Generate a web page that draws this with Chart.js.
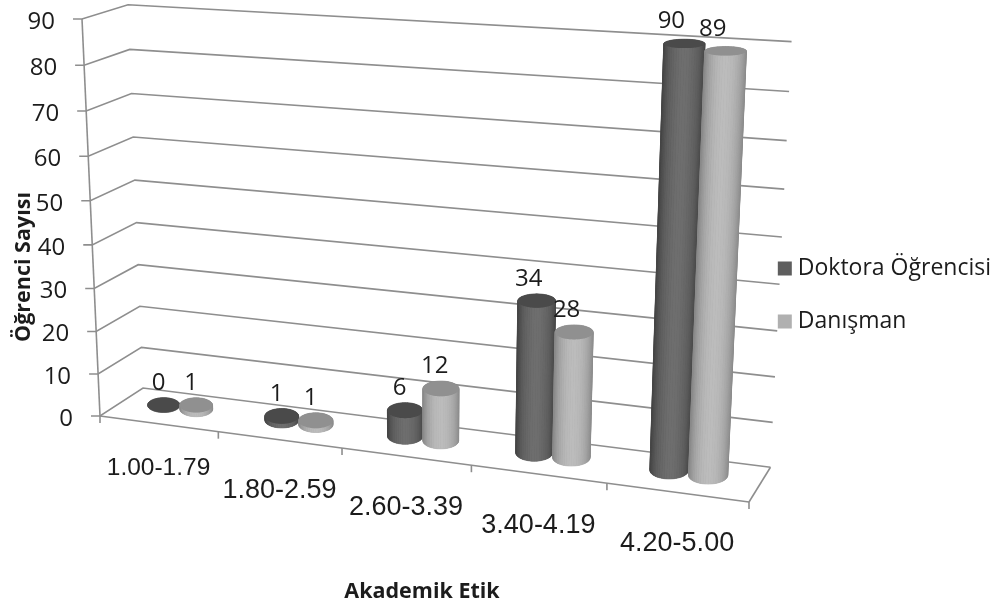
<!DOCTYPE html>
<html>
<head>
<meta charset="utf-8">
<style>
html, body { margin: 0; padding: 0; background: #fff; }
#wrap { width: 997px; height: 608px; }
canvas { filter: blur(0.5px); }
</style>
<script src="https://cdn.jsdelivr.net/npm/chart.js@4/dist/chart.umd.min.js"></script>
</head>
<body>
<div id="wrap"><canvas id="chart3d"></canvas></div>
<script>
var categories = ["1.00-1.79", "1.80-2.59", "2.60-3.39", "3.40-4.19", "4.20-5.00"];
var doktoraValues = [0, 1, 6, 34, 90];
var danismanValues = [1, 1, 12, 28, 89];
var seriesNames = ["Doktora Öğrencisi", "Danışman"];
var xTitle = "Akademik Etik";
var yTitle = "Öğrenci Sayısı";
var yMax = 90;
var yStep = 10;

// camera of the fake 3d box: image of the corners next to the front left bottom one,
// plus the perspective weight along each box direction
var box = {
	o: [100, 416], x: [749, 502], y: [82, 19], z: [143, 388],
	px: -0.108, py: -0.053, pz: 0.038
};
var barDepth = 0.57;
var barRadiusDepth = 0.26;
var barShift = -2.5;
var lineColor = '#8e8e8e';
var textColor = '#1c1c1c';
var catLabelDrop = [44, 51, 51, 51, 51];
var catLabelSize = [24.5, 27, 27, 27, 27];
var shades = [
	{ edge: 68, peak: 110, top: 74 },
	{ edge: 136, peak: 188, top: 144 }
];

function project(u, v, w) {
	var d = 1 + box.px * u + box.py * v + box.pz * w;
	function axis(i) {
		var a = box.x[i] * (1 + box.px) - box.o[i];
		var b = box.y[i] * (1 + box.py) - box.o[i];
		var c = box.z[i] * (1 + box.pz) - box.o[i];
		return (box.o[i] + a * u + b * v + c * w) / d;
	}
	return [axis(0), axis(1)];
}

function segment(ctx, a, b) {
	ctx.beginPath();
	ctx.moveTo(a[0], a[1]);
	ctx.lineTo(b[0], b[1]);
	ctx.stroke();
}

function fillRing(ctx, pts, color) {
	ctx.beginPath();
	pts.forEach(function (p, i) { if (i) ctx.lineTo(p[0], p[1]); else ctx.moveTo(p[0], p[1]); });
	ctx.closePath();
	ctx.fillStyle = color;
	ctx.fill();
}

function grey(n) {
	n = Math.round(n);
	return 'rgb(' + n + ',' + n + ',' + n + ')';
}

function drawBox(chart) {
	var ctx = chart.ctx, yScale = chart.scales.y, xScale = chart.scales.x, area = chart.chartArea;
	ctx.save();
	ctx.strokeStyle = lineColor;
	ctx.lineWidth = 1.6;
	yScale.ticks.forEach(function (t) {
		var v = (area.bottom - yScale.getPixelForValue(t.value)) / area.height;
		var a = project(0, v, 0), b = project(0, v, 1), c = project(1, v, 1);
		ctx.beginPath();
		ctx.moveTo(a[0] - 9, a[1]);
		ctx.lineTo(a[0], a[1]);
		ctx.lineTo(b[0], b[1]);
		ctx.lineTo(c[0], c[1]);
		ctx.stroke();
	});
	segment(ctx, project(0, 0, 0), project(0, 1, 0));
	segment(ctx, project(0, 0, 0), project(1, 0, 0));
	segment(ctx, project(1, 0, 0), project(1, 0, 1));
	// category edges along the front of the floor
	var n = categories.length;
	for (var i = 0; i <= n; i++) {
		var edge = i < n ? xScale.getPixelForValue(i) - xScale.width / n / 2 : area.right;
		var p = project((edge - area.left) / area.width, 0, 0);
		segment(ctx, p, [p[0], p[1] + 7]);
	}
	ctx.restore();
}

// flat ellipse around the projected bar centre, level with the screen like the original
function ring(area, bar, py) {
	var uc = (bar.x - area.left) / area.width;
	var ru = bar.width / 2 / area.width;
	var v = (area.bottom - py) / area.height;
	var c = project(uc, v, barDepth);
	var rx = (project(uc + ru, v, barDepth)[0] - project(uc - ru, v, barDepth)[0]) / 2;
	var ry = (project(uc, v, barDepth - barRadiusDepth)[1] - project(uc, v, barDepth + barRadiusDepth)[1]) / 2;
	var pts = [];
	for (var i = 0; i < 48; i++) {
		var t = i / 48 * Math.PI * 2;
		pts.push([c[0] + barShift + rx * Math.cos(t), c[1] + ry * Math.sin(t)]);
	}
	return pts;
}

function drawCylinder(ctx, area, bar, s) {
	var low = ring(area, bar, bar.base), high = ring(area, bar, bar.y);
	var steps = low.length, i;
	fillRing(ctx, low, grey(s.edge));
	// back half of the strips first, the lit front half over it
	var order = [];
	for (i = steps / 2; i < steps; i++) order.push(i);
	for (i = 0; i < steps / 2; i++) order.push(i);
	order.forEach(function (k) {
		var next = (k + 1) % steps;
		var lit = k < steps / 2 ? Math.pow(Math.sin((k + 0.5) / steps * Math.PI * 2), 1.6) : 0;
		var c = grey(s.edge + (s.peak - s.edge) * lit);
		ctx.beginPath();
		ctx.moveTo(low[k][0], low[k][1]);
		ctx.lineTo(low[next][0], low[next][1]);
		ctx.lineTo(high[next][0], high[next][1]);
		ctx.lineTo(high[k][0], high[k][1]);
		ctx.closePath();
		ctx.fillStyle = c;
		ctx.strokeStyle = c;
		ctx.lineWidth = 0.6;
		ctx.fill();
		ctx.stroke();
	});
	fillRing(ctx, high, grey(s.top));
}

function drawLabels(chart) {
	var ctx = chart.ctx, area = chart.chartArea, yScale = chart.scales.y, xScale = chart.scales.x;
	ctx.save();
	ctx.fillStyle = textColor;
	ctx.textBaseline = 'middle';

	ctx.font = '24px "Open Sans"';
	ctx.textAlign = 'right';
	yScale.ticks.forEach(function (t) {
		var v = (area.bottom - yScale.getPixelForValue(t.value)) / area.height;
		var p = project(0, v, 0);
		ctx.fillText(t.label, p[0] - 27, p[1] + 3);
	});

	ctx.textAlign = 'center';
	categories.forEach(function (c, i) {
		var p = project((xScale.getPixelForValue(i) - area.left) / area.width, 0, 0);
		ctx.font = catLabelSize[i] + 'px "Liberation Sans"';
		ctx.fillText(c, p[0], p[1] + catLabelDrop[i]);
	});

	ctx.font = '24px "Open Sans"';
	chart.data.datasets.forEach(function (ds, di) {
		chart.getDatasetMeta(di).data.forEach(function (bar, i) {
			var p = project((bar.x - area.left) / area.width, (area.bottom - bar.y) / area.height, barDepth);
			ctx.fillText(String(ds.data[i]), p[0] - 7.5 - 8 * ds.data[i] / yMax, p[1] - 22);
		});
	});

	ctx.font = 'bold 21.5px "Open Sans"';
	ctx.fillText(xTitle, 422, 592);
	ctx.translate(24, 267);
	ctx.rotate(-Math.PI / 2);
	ctx.fillText(yTitle, 0, 0);
	ctx.restore();
}

var cylinderPlugin = {
	id: 'cylinders',
	beforeDatasetsDraw: function (chart) {
		var area = chart.chartArea;
		drawBox(chart);
		categories.forEach(function (c, i) {
			chart.data.datasets.forEach(function (ds, di) {
				drawCylinder(chart.ctx, area, chart.getDatasetMeta(di).data[i], shades[di]);
			});
		});
		drawLabels(chart);
		return false;
	}
};

new Chart(document.getElementById("chart3d").getContext('2d'), {
	type: 'bar',
	data: {
		labels: categories,
		datasets: [{
			label: seriesNames[0],
			data: doktoraValues,
			backgroundColor: '#5e5e5e',
			borderColor: '#5e5e5e',
			borderWidth: 11
		}, {
			label: seriesNames[1],
			data: danismanValues,
			backgroundColor: '#b0b0b0',
			borderColor: '#b0b0b0',
			borderWidth: 11
		}]
	},
	options: {
		responsive: true,
		maintainAspectRatio: false,
		animation: false,
		events: [],
		layout: { padding: { bottom: 18, right: -4 } },
		datasets: { bar: { categoryPercentage: 0.56, barPercentage: 1 } },
		scales: {
			x: { display: false },
			y: { display: false, min: 0, max: yMax, ticks: { stepSize: yStep } }
		},
		plugins: {
			tooltip: { enabled: false },
			legend: {
				position: 'right',
				labels: {
					boxWidth: 3,
					boxHeight: 3,
					padding: 30,
					color: textColor,
					font: { family: '"Open Sans"', size: 23 }
				}
			}
		}
	},
	plugins: [cylinderPlugin]
});
</script>
</body>
</html>
